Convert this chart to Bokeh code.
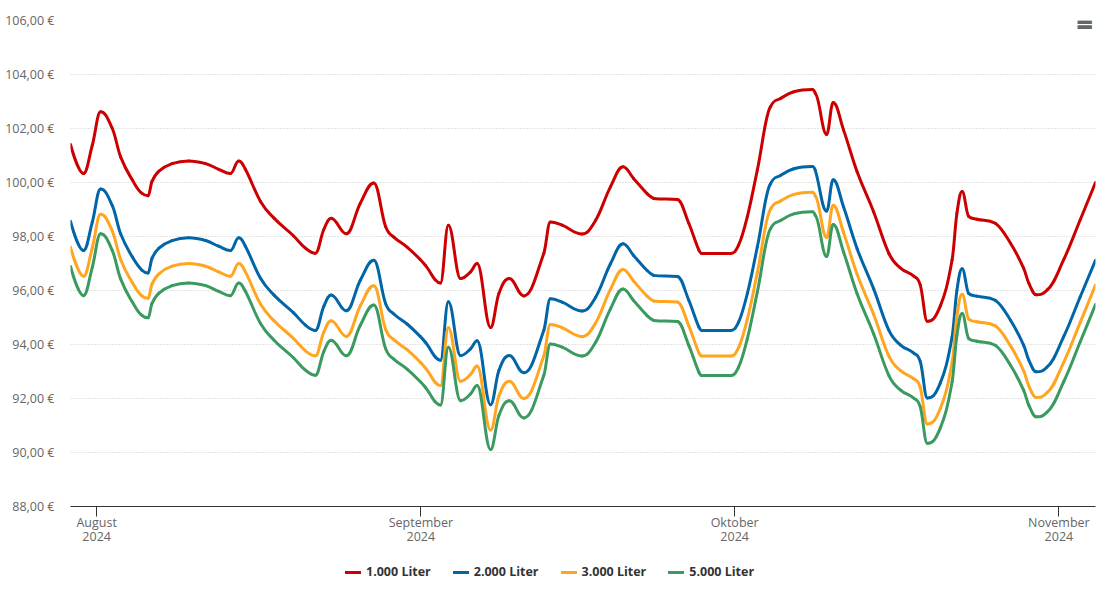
import pandas as pd
from bokeh.plotting import figure
from bokeh.layouts import column
from bokeh.models import (Range1d, FixedTicker, CustomJSTickFormatter, Legend,
                          LegendItem, Label, ColumnDataSource)
from bokeh.embed import file_html
from bokeh.resources import INLINE

# ---------------- data ----------------
dates = [
    "2024-07-29 12:00", "2024-07-30 18:00", "2024-07-31 14:00", "2024-08-01 09:00",
    "2024-08-02 12:00", "2024-08-03 07:00", "2024-08-04 10:00", "2024-08-05 08:00",
    "2024-08-05 22:00", "2024-08-06 07:00", "2024-08-06 23:00", "2024-08-08 05:00",
    "2024-08-09 19:00", "2024-08-11 10:00", "2024-08-12 16:00", "2024-08-13 19:00",
    "2024-08-14 14:00", "2024-08-15 05:00", "2024-08-16 16:00", "2024-08-17 23:00",
    "2024-08-19 20:00", "2024-08-20 23:00", "2024-08-21 22:00", "2024-08-22 17:00",
    "2024-08-23 10:00", "2024-08-24 21:00", "2024-08-26 05:00", "2024-08-27 12:00",
    "2024-08-28 15:00", "2024-08-29 10:00", "2024-08-30 17:00", "2024-08-31 23:00",
    "2024-09-01 10:00", "2024-09-02 21:00", "2024-09-03 15:00", "2024-09-04 19:00",
    "2024-09-05 18:00", "2024-09-06 09:00", "2024-09-07 16:00", "2024-09-08 11:00",
    "2024-09-09 11:00", "2024-09-10 20:00", "2024-09-12 18:00", "2024-09-13 09:00",
    "2024-09-14 12:00", "2024-09-16 10:00", "2024-09-17 17:00", "2024-09-19 03:00",
    "2024-09-20 08:00", "2024-09-21 08:00", "2024-09-22 15:00", "2024-09-23 06:00",
    "2024-09-25 13:00", "2024-09-26 15:00", "2024-09-27 14:00", "2024-09-27 21:00",
    "2024-09-30 14:00", "2024-10-01 09:00", "2024-10-02 05:00", "2024-10-03 04:00",
    "2024-10-04 10:00", "2024-10-05 09:00", "2024-10-06 16:00", "2024-10-08 10:00",
    "2024-10-08 17:00", "2024-10-09 19:00", "2024-10-10 10:00", "2024-10-11 10:00",
    "2024-10-12 17:00", "2024-10-14 07:00", "2024-10-15 18:00", "2024-10-16 20:00",
    "2024-10-18 03:00", "2024-10-18 18:00", "2024-10-19 10:00", "2024-10-20 16:00",
    "2024-10-21 19:00", "2024-10-22 06:00", "2024-10-22 18:00", "2024-10-23 09:00",
    "2024-10-24 04:00", "2024-10-25 22:00", "2024-10-27 09:00", "2024-10-28 15:00",
    "2024-10-29 03:00", "2024-10-29 20:00", "2024-10-30 21:00", "2024-11-01 11:00",
    "2024-11-03 01:00", "2024-11-04 12:00",
]

liter_1000 = [
    101.41, 100.33, 101.38, 102.62, 102.00, 100.95, 100.09, 99.60, 99.51, 100.04,
    100.42, 100.70, 100.80, 100.70, 100.49, 100.33, 100.80, 100.50, 99.30, 98.68,
    98.02, 97.57, 97.38, 98.25, 98.68, 98.10, 99.23, 99.98, 98.37, 97.98,
    97.60, 97.14, 96.94, 96.28, 98.42, 96.44, 96.69, 97.00, 94.63, 95.89,
    96.44, 95.80, 97.37, 98.54, 98.42, 98.09, 98.60, 99.84, 100.58, 100.15,
    99.59, 99.41, 99.37, 98.48, 97.49, 97.37, 97.37, 97.68, 98.73, 100.46,
    102.80, 103.11, 103.36, 103.44, 103.30, 101.78, 102.96, 101.94, 100.40, 98.91,
    97.37, 96.84, 96.53, 96.20, 94.86, 95.43, 97.14, 98.86, 99.67, 98.74,
    98.64, 98.49, 97.75, 96.83, 96.27, 95.84, 96.02, 97.14, 98.62, 100.00,
]

liter_2000 = [
    98.56, 97.48, 98.53, 99.76, 99.14, 98.10, 97.24, 96.75, 96.65, 97.19,
    97.57, 97.85, 97.95, 97.85, 97.64, 97.48, 97.95, 97.65, 96.45, 95.83,
    95.17, 94.72, 94.52, 95.40, 95.83, 95.25, 96.38, 97.12, 95.52, 95.13,
    94.75, 94.29, 94.09, 93.42, 95.58, 93.59, 93.84, 94.14, 91.77, 93.04,
    93.59, 92.95, 94.52, 95.69, 95.57, 95.24, 95.75, 96.99, 97.73, 97.30,
    96.74, 96.56, 96.52, 95.63, 94.64, 94.52, 94.52, 94.83, 95.88, 97.61,
    99.95, 100.26, 100.51, 100.59, 100.45, 98.94, 100.10, 99.09, 97.55, 96.06,
    94.52, 93.99, 93.68, 93.36, 92.02, 92.58, 94.29, 96.01, 96.81, 95.89,
    95.79, 95.64, 94.90, 93.98, 93.42, 92.99, 93.17, 94.29, 95.77, 97.12,
]

liter_3000 = [
    97.61, 96.53, 97.58, 98.82, 98.20, 97.15, 96.29, 95.80, 95.71, 96.24,
    96.62, 96.90, 97.00, 96.90, 96.69, 96.53, 97.00, 96.70, 95.50, 94.88,
    94.22, 93.77, 93.58, 94.45, 94.88, 94.30, 95.43, 96.18, 94.57, 94.18,
    93.80, 93.34, 93.14, 92.48, 94.62, 92.64, 92.89, 93.20, 90.83, 92.09,
    92.64, 92.00, 93.57, 94.74, 94.62, 94.29, 94.80, 96.04, 96.78, 96.35,
    95.79, 95.61, 95.57, 94.68, 93.69, 93.57, 93.57, 93.88, 94.93, 96.66,
    99.00, 99.31, 99.56, 99.64, 99.50, 97.96, 99.16, 98.14, 96.60, 95.11,
    93.57, 93.04, 92.73, 92.40, 91.06, 91.63, 93.34, 95.06, 95.86, 94.94,
    94.84, 94.69, 93.95, 93.03, 92.47, 92.04, 92.22, 93.34, 94.82, 96.20,
]

liter_5000 = [
    96.89, 95.81, 96.86, 98.10, 97.48, 96.43, 95.57, 95.08, 94.99, 95.52,
    95.90, 96.18, 96.28, 96.18, 95.97, 95.81, 96.28, 95.98, 94.78, 94.16,
    93.50, 93.05, 92.86, 93.73, 94.16, 93.58, 94.71, 95.46, 93.85, 93.46,
    93.08, 92.62, 92.42, 91.76, 93.90, 91.92, 92.17, 92.48, 90.11, 91.37,
    91.92, 91.28, 92.85, 94.02, 93.90, 93.57, 94.08, 95.32, 96.06, 95.63,
    95.07, 94.89, 94.85, 93.96, 92.97, 92.85, 92.85, 93.16, 94.21, 95.94,
    98.28, 98.59, 98.84, 98.92, 98.78, 97.26, 98.44, 97.42, 95.88, 94.39,
    92.85, 92.32, 92.01, 91.68, 90.34, 90.91, 92.62, 94.34, 95.15, 94.22,
    94.12, 93.97, 93.23, 92.31, 91.75, 91.32, 91.50, 92.62, 94.10, 95.48,
]

series_names = ["1.000 Liter", "2.000 Liter", "3.000 Liter", "5.000 Liter"]
series_colors = ["#cc0000", "#0066a8", "#ffa51f", "#3a9a60"]

month_ticks = ["2024-08-01", "2024-09-01", "2024-10-01", "2024-11-01"]
month_labels = ["August\n2024", "September\n2024", "Oktober\n2024", "November\n2024"]

y_ticks = [88, 90, 92, 94, 96, 98, 100, 102, 104, 106]
y_labels = ["88,00 €", "90,00 €", "92,00 €", "94,00 €", "96,00 €",
            "98,00 €", "100,00 €", "102,00 €", "104,00 €", "106,00 €"]

FONT = "Open Sans"


def to_ms(strings):
    return [float(pd.Timestamp(s).value // 10**6) for s in strings]


def spline_source(xs, ys, smoothing=1.5):
    """Bezier control points like a Highcharts 'spline' series."""
    n = len(xs)
    denom = smoothing + 1
    lcx, lcy, rcx, rcy = list(xs), list(ys), list(xs), list(ys)
    for i in range(1, n - 1):
        px, py = xs[i], ys[i]
        lx, ly = xs[i - 1], ys[i - 1]
        nx, ny = xs[i + 1], ys[i + 1]
        a_x = (smoothing * px + lx) / denom
        a_y = (smoothing * py + ly) / denom
        b_x = (smoothing * px + nx) / denom
        b_y = (smoothing * py + ny) / denom
        if b_x != a_x:
            corr = ((b_y - a_y) * (b_x - px)) / (b_x - a_x) + py - b_y
            a_y += corr
            b_y += corr
            if a_y > ly and a_y > py:
                a_y = max(ly, py)
                b_y = 2 * py - a_y
            elif a_y < ly and a_y < py:
                a_y = min(ly, py)
                b_y = 2 * py - a_y
            if b_y > ny and b_y > py:
                b_y = max(ny, py)
                a_y = 2 * py - b_y
            elif b_y < ny and b_y < py:
                b_y = min(ny, py)
                a_y = 2 * py - b_y
        lcx[i], lcy[i], rcx[i], rcy[i] = a_x, a_y, b_x, b_y
    return ColumnDataSource(dict(
        x0=xs[:-1], y0=ys[:-1], x1=xs[1:], y1=ys[1:],
        cx0=rcx[:-1], cy0=rcy[:-1], cx1=lcx[1:], cy1=lcy[1:]))


xs = to_ms(dates)
tick_ms = to_ms(month_ticks)
all_series = [liter_1000, liter_2000, liter_3000, liter_5000]

# ---------------- main chart ----------------
p = figure(width=1100, height=555, output_backend="svg", toolbar_location=None,
           x_range=Range1d(xs[0], xs[-1]), y_range=Range1d(88, 106),
           min_border_left=70, min_border_right=5, min_border_top=20,
           min_border_bottom=49)
p.outline_line_color = None
p.background_fill_color = "white"
p.border_fill_color = "white"

p.xgrid.visible = False
p.ygrid.grid_line_color = "#c8c8c8"
p.ygrid.grid_line_dash = "1 2"
p.ygrid.grid_line_width = 1

p.yaxis.ticker = FixedTicker(ticks=y_ticks)
p.yaxis.formatter = CustomJSTickFormatter(
    args=dict(vals=y_ticks, labs=y_labels),
    code="const i = vals.indexOf(tick); return i >= 0 ? labs[i] : '';")
p.yaxis.axis_line_color = None
p.yaxis.major_tick_line_color = None
p.yaxis.major_tick_out = 0
p.yaxis.major_tick_in = 0
p.yaxis.minor_tick_line_color = None
p.yaxis.major_label_standoff = 16
p.yaxis.major_label_text_font = FONT
p.yaxis.major_label_text_font_size = "12.5px"
p.yaxis.major_label_text_color = "#666666"

p.xaxis.ticker = FixedTicker(ticks=tick_ms)
p.xaxis.formatter = CustomJSTickFormatter(
    args=dict(vals=tick_ms, labs=month_labels),
    code="const i = vals.indexOf(tick); return i >= 0 ? labs[i] : '';")
p.xaxis.axis_line_color = "#333333"
p.xaxis.axis_line_width = 1
p.xaxis.major_tick_line_color = "#333333"
p.xaxis.major_tick_out = 10
p.xaxis.major_tick_in = 0
p.xaxis.minor_tick_line_color = None
p.xaxis.major_label_standoff = -3
p.xaxis.major_label_text_line_height = 0.85
p.xaxis.major_label_text_font = FONT
p.xaxis.major_label_text_font_size = "12.5px"
p.xaxis.major_label_text_color = "#666666"

for name, color, ys in zip(series_names, series_colors, all_series):
    src = spline_source(xs, ys)
    p.bezier(x0="x0", y0="y0", x1="x1", y1="y1", cx0="cx0", cy0="cy0",
             cx1="cx1", cy1="cy1", source=src, line_color=color,
             line_width=3, line_cap="round")

# export-menu icon (three bars) in the top right corner
for dy in (5, 0, -5):
    p.add_layout(Label(x=1021, y=485 + dy, x_units="screen", y_units="screen",
                       text="━", text_align="right", text_baseline="middle",
                       text_font="DejaVu Sans Mono", text_font_size="23px",
                       text_color="#666666"))

# ---------------- legend strip ----------------
lg = figure(width=1100, height=45, output_backend="svg", toolbar_location=None,
            x_axis_location=None, y_axis_location=None,
            x_range=Range1d(xs[0], xs[-1]), y_range=Range1d(0, 1),
            min_border_left=0, min_border_right=0, min_border_top=0,
            min_border_bottom=0)
lg.outline_line_color = None
lg.xgrid.visible = False
lg.ygrid.visible = False
lg.background_fill_color = "white"
lg.border_fill_color = "white"

items = []
for name, color, ys in zip(series_names, series_colors, all_series):
    # same series, out of this strip's y-range: only its legend symbol shows
    r = lg.line(x=xs, y=ys, line_color=color, line_width=3, line_cap="round")
    items.append(LegendItem(label=name, renderers=[r]))

legend = Legend(items=items, orientation="horizontal", location=(275, 20),
                glyph_width=16, glyph_height=16, label_height=16,
                label_standoff=5, spacing=22, padding=0, margin=0,
                border_line_color=None, background_fill_alpha=0,
                label_text_font=FONT, label_text_font_size="12.5px",
                label_text_font_style="bold", label_text_color="#333333")
lg.add_layout(legend)

layout = column(p, lg, spacing=0)
open("out.html", "w").write(file_html(layout, INLINE))
